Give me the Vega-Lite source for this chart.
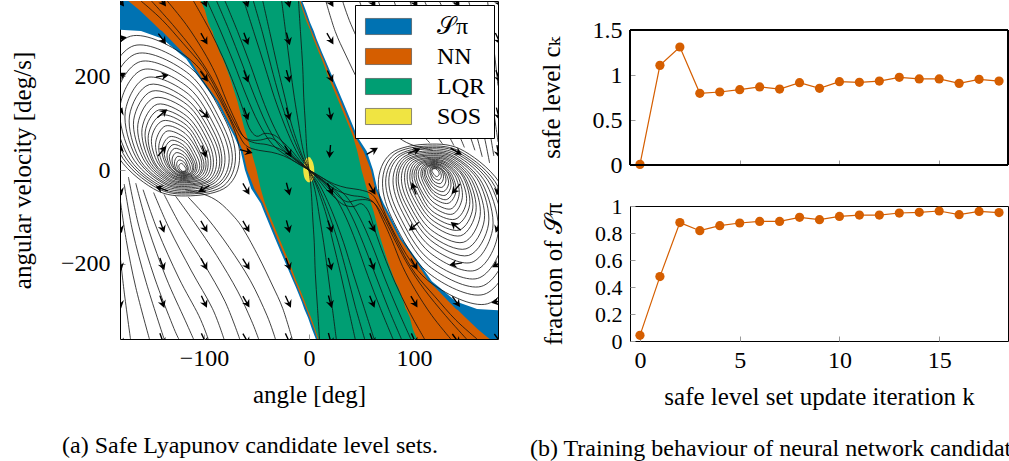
{
"$schema": "https://vega.github.io/schema/vega-lite/v6.json",
"padding": {"left": 9, "top": 0, "right": 0, "bottom": 0},
"bounds": "flush",
"spacing": 132,
"resolve": {"legend": {"fill": "independent"}},
"config": {
 "font": "Liberation Serif, DejaVu Serif, serif",
 "view": {"stroke": "black", "strokeWidth": 1},
 "axis": {"labelFont": "Liberation Serif, DejaVu Serif, serif", "titleFont": "Liberation Serif, DejaVu Serif, serif", "labelFontSize": 24, "titleFontSize": 25, "titleFontWeight": "normal", "labelColor": "black", "titleColor": "black", "grid": false, "domain": false, "offset": -5, "tickColor": "#9a9a9a", "tickSize": 5, "tickWidth": 1, "zindex": 1},
 "axisX": {"labelPadding": 7, "titlePadding": 12},
 "axisY": {"labelPadding": 10, "titlePadding": 25},
 "title": {"font": "Liberation Serif, DejaVu Serif, serif", "fontSize": 24, "fontWeight": "normal", "color": "black"}
},
"datasets": {
 "regions": [
  {"r":"S","y":-360,"x":6.5,"xe":180},{"r":"S","y":-340,"x":3,"xe":180},{"r":"S","y":-314,"x":-1,"xe":180},{"r":"S","y":-299,"x":-4,"xe":180},{"r":"S","y":-296,"x":-4.5,"xe":160},{"r":"S","y":-280,"x":-7,"xe":140},{"r":"S","y":-250,"x":-12.5,"xe":124},{"r":"S","y":-237,"x":-15,"xe":117},{"r":"S","y":-195,"x":-23,"xe":104},{"r":"S","y":-145,"x":-32.5,"xe":88},{"r":"S","y":-88,"x":-43,"xe":75},{"r":"S","y":-71,"x":-46,"xe":71},{"r":"S","y":-40,"x":-55,"xe":65},{"r":"S","y":0,"x":-61,"xe":61},{"r":"S","y":40,"x":-65,"xe":55},{"r":"S","y":71,"x":-71,"xe":46},{"r":"S","y":88,"x":-75,"xe":43},{"r":"S","y":145,"x":-88,"xe":32.5},{"r":"S","y":195,"x":-104,"xe":23},{"r":"S","y":237,"x":-117,"xe":15},{"r":"S","y":250,"x":-124,"xe":12.5},{"r":"S","y":280,"x":-140,"xe":7},{"r":"S","y":296,"x":-160,"xe":4.5},{"r":"S","y":299,"x":-180,"xe":4},{"r":"S","y":314,"x":-180,"xe":1},{"r":"S","y":340,"x":-180,"xe":-3},{"r":"S","y":360,"x":-180,"xe":-6.5},
  {"r":"N","y":-360,"x":8,"xe":172},{"r":"N","y":-340,"x":5,"xe":161},{"r":"N","y":-314,"x":0.5,"xe":149},{"r":"N","y":-299,"x":-2,"xe":142},{"r":"N","y":-296,"x":-2.5,"xe":140},{"r":"N","y":-280,"x":-5.5,"xe":133},{"r":"N","y":-250,"x":-11,"xe":120},{"r":"N","y":-237,"x":-13.5,"xe":114},{"r":"N","y":-195,"x":-21,"xe":102},{"r":"N","y":-145,"x":-30.5,"xe":86},{"r":"N","y":-88,"x":-41,"xe":73},{"r":"N","y":-71,"x":-44,"xe":69},{"r":"N","y":-40,"x":-52,"xe":63},{"r":"N","y":0,"x":-59,"xe":59},{"r":"N","y":40,"x":-63,"xe":52},{"r":"N","y":71,"x":-69,"xe":44},{"r":"N","y":88,"x":-73,"xe":41},{"r":"N","y":145,"x":-86,"xe":30.5},{"r":"N","y":195,"x":-102,"xe":21},{"r":"N","y":237,"x":-114,"xe":13.5},{"r":"N","y":250,"x":-120,"xe":11},{"r":"N","y":280,"x":-133,"xe":5.5},{"r":"N","y":296,"x":-140,"xe":2.5},{"r":"N","y":299,"x":-142,"xe":2},{"r":"N","y":314,"x":-149,"xe":-0.5},{"r":"N","y":340,"x":-161,"xe":-5},{"r":"N","y":360,"x":-172,"xe":-8},
  {"r":"L","y":-360,"x":9,"xe":103},{"r":"L","y":-340,"x":6,"xe":99},{"r":"L","y":-314,"x":2,"xe":96},{"r":"L","y":-299,"x":-1,"xe":93},{"r":"L","y":-296,"x":-1.5,"xe":92},{"r":"L","y":-280,"x":-4,"xe":90},{"r":"L","y":-250,"x":-9.5,"xe":85},{"r":"L","y":-237,"x":-12,"xe":82},{"r":"L","y":-195,"x":-19,"xe":75},{"r":"L","y":-145,"x":-28.5,"xe":68},{"r":"L","y":-88,"x":-39,"xe":61.5},{"r":"L","y":-71,"x":-42,"xe":59},{"r":"L","y":-40,"x":-46,"xe":55},{"r":"L","y":0,"x":-50,"xe":50},{"r":"L","y":40,"x":-55,"xe":46},{"r":"L","y":71,"x":-59,"xe":42},{"r":"L","y":88,"x":-61.5,"xe":39},{"r":"L","y":145,"x":-68,"xe":28.5},{"r":"L","y":195,"x":-75,"xe":19},{"r":"L","y":237,"x":-82,"xe":12},{"r":"L","y":250,"x":-85,"xe":9.5},{"r":"L","y":280,"x":-90,"xe":4},{"r":"L","y":296,"x":-92,"xe":1.5},{"r":"L","y":299,"x":-93,"xe":1},{"r":"L","y":314,"x":-96,"xe":-2},{"r":"L","y":340,"x":-99,"xe":-6},{"r":"L","y":360,"x":-103,"xe":-9},
  {"r":"Y","y":-26,"x":-1,"xe":1.5},{"r":"Y","y":-20,"x":-3.5,"xe":4},{"r":"Y","y":-10,"x":-5,"xe":5},{"r":"Y","y":0,"x":-5.5,"xe":5},{"r":"Y","y":10,"x":-5,"xe":4.5},{"r":"Y","y":20,"x":-4,"xe":3},{"r":"Y","y":27,"x":-1.5,"xe":1}
 ],
 "loops": [
  {"id":"L1","i":0,"x":-170,"y":285},{"id":"L1","i":1,"x":-113,"y":235},{"id":"L1","i":2,"x":-78,"y":120},{"id":"L1","i":3,"x":-66,"y":30},{"id":"L1","i":4,"x":-78,"y":-35},{"id":"L1","i":5,"x":-113,"y":-55},{"id":"L1","i":6,"x":-148,"y":-40},{"id":"L1","i":7,"x":-185,"y":40},{"id":"L1","i":8,"x":-200,"y":180},
  {"id":"La","i":0,"x":-166.5,"y":265},{"id":"La","i":1,"x":-113.5,"y":219},{"id":"La","i":2,"x":-81,"y":112},{"id":"La","i":3,"x":-70,"y":28},{"id":"La","i":4,"x":-81,"y":-33},{"id":"La","i":5,"x":-113.5,"y":-51},{"id":"La","i":6,"x":-146,"y":-37},{"id":"La","i":7,"x":-180.5,"y":37},{"id":"La","i":8,"x":-194,"y":167},
  {"id":"L2","i":0,"x":-164,"y":248},{"id":"L2","i":1,"x":-114,"y":204},{"id":"L2","i":2,"x":-84,"y":104},{"id":"L2","i":3,"x":-73,"y":26},{"id":"L2","i":4,"x":-84,"y":-30},{"id":"L2","i":5,"x":-114,"y":-48},{"id":"L2","i":6,"x":-144,"y":-35},{"id":"L2","i":7,"x":-177,"y":35},{"id":"L2","i":8,"x":-190,"y":157},
  {"id":"Lb","i":0,"x":-160.5,"y":231},{"id":"Lb","i":1,"x":-114,"y":190},{"id":"Lb","i":2,"x":-86,"y":97},{"id":"Lb","i":3,"x":-76,"y":24},{"id":"Lb","i":4,"x":-86,"y":-28},{"id":"Lb","i":5,"x":-114,"y":-45},{"id":"Lb","i":6,"x":-143,"y":-32},{"id":"Lb","i":7,"x":-173,"y":32},{"id":"Lb","i":8,"x":-185,"y":146},
  {"id":"L3","i":0,"x":-158,"y":214},{"id":"L3","i":1,"x":-115,"y":176},{"id":"L3","i":2,"x":-89,"y":90},{"id":"L3","i":3,"x":-80,"y":23},{"id":"L3","i":4,"x":-89,"y":-26},{"id":"L3","i":5,"x":-115,"y":-41},{"id":"L3","i":6,"x":-141,"y":-30},{"id":"L3","i":7,"x":-169,"y":30},{"id":"L3","i":8,"x":-180,"y":135},
  {"id":"Lc","i":0,"x":-154.5,"y":197},{"id":"Lc","i":1,"x":-115,"y":162},{"id":"Lc","i":2,"x":-91,"y":83},{"id":"Lc","i":3,"x":-83,"y":21},{"id":"Lc","i":4,"x":-91,"y":-24},{"id":"Lc","i":5,"x":-115,"y":-38},{"id":"Lc","i":6,"x":-139,"y":-28},{"id":"Lc","i":7,"x":-165,"y":28},{"id":"Lc","i":8,"x":-175,"y":124},
  {"id":"L4","i":0,"x":-152,"y":182},{"id":"L4","i":1,"x":-116,"y":150},{"id":"L4","i":2,"x":-93,"y":77},{"id":"L4","i":3,"x":-85,"y":19},{"id":"L4","i":4,"x":-93,"y":-22},{"id":"L4","i":5,"x":-116,"y":-35},{"id":"L4","i":6,"x":-138,"y":-26},{"id":"L4","i":7,"x":-162,"y":26},{"id":"L4","i":8,"x":-171,"y":115},
  {"id":"Ld","i":0,"x":-149.5,"y":168},{"id":"Ld","i":1,"x":-116,"y":139},{"id":"Ld","i":2,"x":-95,"y":71},{"id":"Ld","i":3,"x":-88,"y":18},{"id":"Ld","i":4,"x":-95,"y":-21},{"id":"Ld","i":5,"x":-116,"y":-32},{"id":"Ld","i":6,"x":-136.5,"y":-24},{"id":"Ld","i":7,"x":-158,"y":24},{"id":"Ld","i":8,"x":-167,"y":106},
  {"id":"L5","i":0,"x":-147,"y":154},{"id":"L5","i":1,"x":-116,"y":127},{"id":"L5","i":2,"x":-97,"y":65},{"id":"L5","i":3,"x":-91,"y":16},{"id":"L5","i":4,"x":-97,"y":-19},{"id":"L5","i":5,"x":-116,"y":-30},{"id":"L5","i":6,"x":-135,"y":-22},{"id":"L5","i":7,"x":-155,"y":22},{"id":"L5","i":8,"x":-163,"y":97},
  {"id":"Le","i":0,"x":-144.5,"y":140},{"id":"Le","i":1,"x":-116.5,"y":115},{"id":"Le","i":2,"x":-99,"y":59},{"id":"Le","i":3,"x":-93.5,"y":15},{"id":"Le","i":4,"x":-99,"y":-17},{"id":"Le","i":5,"x":-116.5,"y":-27},{"id":"Le","i":6,"x":-134,"y":-20},{"id":"Le","i":7,"x":-152,"y":20},{"id":"Le","i":8,"x":-159,"y":88},
  {"id":"L6","i":0,"x":-143,"y":128},{"id":"L6","i":1,"x":-117,"y":106},{"id":"L6","i":2,"x":-101,"y":54},{"id":"L6","i":3,"x":-96,"y":14},{"id":"L6","i":4,"x":-101,"y":-16},{"id":"L6","i":5,"x":-117,"y":-25},{"id":"L6","i":6,"x":-133,"y":-18},{"id":"L6","i":7,"x":-149,"y":18},{"id":"L6","i":8,"x":-156,"y":81},
  {"id":"Lf","i":0,"x":-140.5,"y":117},{"id":"Lf","i":1,"x":-117,"y":96},{"id":"Lf","i":2,"x":-103,"y":49},{"id":"Lf","i":3,"x":-98,"y":12},{"id":"Lf","i":4,"x":-103,"y":-14},{"id":"Lf","i":5,"x":-117,"y":-22.5},{"id":"Lf","i":6,"x":-131.5,"y":-16},{"id":"Lf","i":7,"x":-147,"y":16},{"id":"Lf","i":8,"x":-153,"y":74},
  {"id":"L7","i":0,"x":-139,"y":105},{"id":"L7","i":1,"x":-117,"y":87},{"id":"L7","i":2,"x":-105,"y":44},{"id":"L7","i":3,"x":-100,"y":11},{"id":"L7","i":4,"x":-105,"y":-13},{"id":"L7","i":5,"x":-117,"y":-20},{"id":"L7","i":6,"x":-130,"y":-15},{"id":"L7","i":7,"x":-144,"y":15},{"id":"L7","i":8,"x":-150,"y":67},
  {"id":"Lg","i":0,"x":-136.5,"y":94},{"id":"Lg","i":1,"x":-118,"y":78},{"id":"Lg","i":2,"x":-106,"y":40},{"id":"Lg","i":3,"x":-102,"y":10},{"id":"Lg","i":4,"x":-106,"y":-11.5},{"id":"Lg","i":5,"x":-118,"y":-18},{"id":"Lg","i":6,"x":-129,"y":-13},{"id":"Lg","i":7,"x":-141.5,"y":13},{"id":"Lg","i":8,"x":-146,"y":59},
  {"id":"L8","i":0,"x":-135,"y":83},{"id":"L8","i":1,"x":-118,"y":68},{"id":"L8","i":2,"x":-108,"y":35},{"id":"L8","i":3,"x":-104,"y":9},{"id":"L8","i":4,"x":-108,"y":-10},{"id":"L8","i":5,"x":-118,"y":-16},{"id":"L8","i":6,"x":-128,"y":-12},{"id":"L8","i":7,"x":-139,"y":12},{"id":"L8","i":8,"x":-143,"y":52},
  {"id":"Lh","i":0,"x":-132.5,"y":71},{"id":"Lh","i":1,"x":-118,"y":59},{"id":"Lh","i":2,"x":-109.5,"y":30},{"id":"Lh","i":3,"x":-106.5,"y":7.5},{"id":"Lh","i":4,"x":-109.5,"y":-9},{"id":"Lh","i":5,"x":-118,"y":-14},{"id":"Lh","i":6,"x":-127,"y":-10},{"id":"Lh","i":7,"x":-136,"y":10},{"id":"Lh","i":8,"x":-140,"y":45},
  {"id":"L9","i":0,"x":-131,"y":63},{"id":"L9","i":1,"x":-119,"y":52},{"id":"L9","i":2,"x":-111,"y":26},{"id":"L9","i":3,"x":-108,"y":7},{"id":"L9","i":4,"x":-111,"y":-8},{"id":"L9","i":5,"x":-119,"y":-12},{"id":"L9","i":6,"x":-126,"y":-9},{"id":"L9","i":7,"x":-134,"y":9},{"id":"L9","i":8,"x":-138,"y":40},
  {"id":"Li","i":0,"x":-129.5,"y":54},{"id":"Li","i":1,"x":-118.7,"y":45},{"id":"Li","i":2,"x":-112,"y":23},{"id":"Li","i":3,"x":-109.7,"y":6},{"id":"Li","i":4,"x":-112,"y":-7},{"id":"Li","i":5,"x":-118.7,"y":-10.5},{"id":"Li","i":6,"x":-125.3,"y":-7.6},{"id":"Li","i":7,"x":-132.4,"y":7.6},{"id":"Li","i":8,"x":-135.2,"y":34},
  {"id":"L10","i":0,"x":-128,"y":46},{"id":"L10","i":1,"x":-119,"y":38},{"id":"L10","i":2,"x":-113,"y":19},{"id":"L10","i":3,"x":-111,"y":5},{"id":"L10","i":4,"x":-113,"y":-6},{"id":"L10","i":5,"x":-119,"y":-9},{"id":"L10","i":6,"x":-124,"y":-6},{"id":"L10","i":7,"x":-130,"y":6},{"id":"L10","i":8,"x":-133,"y":29},
  {"id":"Lj","i":0,"x":-126.5,"y":37},{"id":"Lj","i":1,"x":-119,"y":30.5},{"id":"Lj","i":2,"x":-114.5,"y":15.6},{"id":"Lj","i":3,"x":-113,"y":3.9},{"id":"Lj","i":4,"x":-114.5,"y":-4.6},{"id":"Lj","i":5,"x":-119,"y":-7.2},{"id":"Lj","i":6,"x":-123.6,"y":-5.2},{"id":"Lj","i":7,"x":-128.5,"y":5.2},{"id":"Lj","i":8,"x":-130.4,"y":23.4},
  {"id":"L11","i":0,"x":-125,"y":29},{"id":"L11","i":1,"x":-119,"y":24},{"id":"L11","i":2,"x":-116,"y":12},{"id":"L11","i":3,"x":-115,"y":3},{"id":"L11","i":4,"x":-116,"y":-4},{"id":"L11","i":5,"x":-119,"y":-6},{"id":"L11","i":6,"x":-123,"y":-4},{"id":"L11","i":7,"x":-127,"y":4},{"id":"L11","i":8,"x":-128,"y":18},
  {"id":"Lk","i":0,"x":-123.75,"y":21.4},{"id":"Lk","i":1,"x":-119.5,"y":17.6},{"id":"Lk","i":2,"x":-116.85,"y":9},{"id":"Lk","i":3,"x":-115.95,"y":2.25},{"id":"Lk","i":4,"x":-116.85,"y":-2.6},{"id":"Lk","i":5,"x":-119.5,"y":-4.1},{"id":"Lk","i":6,"x":-122.1,"y":-3},{"id":"Lk","i":7,"x":-124.9,"y":3},{"id":"Lk","i":8,"x":-126,"y":13.5},
  {"id":"L12","i":0,"x":-122,"y":14},{"id":"L12","i":1,"x":-120,"y":12},{"id":"L12","i":2,"x":-118,"y":6},{"id":"L12","i":3,"x":-117,"y":2},{"id":"L12","i":4,"x":-118,"y":-2},{"id":"L12","i":5,"x":-120,"y":-3},{"id":"L12","i":6,"x":-121,"y":-2},{"id":"L12","i":7,"x":-123,"y":2},{"id":"L12","i":8,"x":-124,"y":9},
  {"id":"R1","i":0,"x":170,"y":-285},{"id":"R1","i":1,"x":113,"y":-235},{"id":"R1","i":2,"x":78,"y":-120},{"id":"R1","i":3,"x":66,"y":-30},{"id":"R1","i":4,"x":78,"y":35},{"id":"R1","i":5,"x":113,"y":55},{"id":"R1","i":6,"x":148,"y":40},{"id":"R1","i":7,"x":185,"y":-40},{"id":"R1","i":8,"x":200,"y":-180},
  {"id":"Ra","i":0,"x":166.5,"y":-265},{"id":"Ra","i":1,"x":113.5,"y":-219},{"id":"Ra","i":2,"x":81,"y":-112},{"id":"Ra","i":3,"x":70,"y":-28},{"id":"Ra","i":4,"x":81,"y":33},{"id":"Ra","i":5,"x":113.5,"y":51},{"id":"Ra","i":6,"x":146,"y":37},{"id":"Ra","i":7,"x":180.5,"y":-37},{"id":"Ra","i":8,"x":194,"y":-167},
  {"id":"R2","i":0,"x":164,"y":-248},{"id":"R2","i":1,"x":114,"y":-204},{"id":"R2","i":2,"x":84,"y":-104},{"id":"R2","i":3,"x":73,"y":-26},{"id":"R2","i":4,"x":84,"y":30},{"id":"R2","i":5,"x":114,"y":48},{"id":"R2","i":6,"x":144,"y":35},{"id":"R2","i":7,"x":177,"y":-35},{"id":"R2","i":8,"x":190,"y":-157},
  {"id":"Rb","i":0,"x":160.5,"y":-231},{"id":"Rb","i":1,"x":114,"y":-190},{"id":"Rb","i":2,"x":86,"y":-97},{"id":"Rb","i":3,"x":76,"y":-24},{"id":"Rb","i":4,"x":86,"y":28},{"id":"Rb","i":5,"x":114,"y":45},{"id":"Rb","i":6,"x":143,"y":32},{"id":"Rb","i":7,"x":173,"y":-32},{"id":"Rb","i":8,"x":185,"y":-146},
  {"id":"R3","i":0,"x":158,"y":-214},{"id":"R3","i":1,"x":115,"y":-176},{"id":"R3","i":2,"x":89,"y":-90},{"id":"R3","i":3,"x":80,"y":-23},{"id":"R3","i":4,"x":89,"y":26},{"id":"R3","i":5,"x":115,"y":41},{"id":"R3","i":6,"x":141,"y":30},{"id":"R3","i":7,"x":169,"y":-30},{"id":"R3","i":8,"x":180,"y":-135},
  {"id":"Rc","i":0,"x":154.5,"y":-197},{"id":"Rc","i":1,"x":115,"y":-162},{"id":"Rc","i":2,"x":91,"y":-83},{"id":"Rc","i":3,"x":83,"y":-21},{"id":"Rc","i":4,"x":91,"y":24},{"id":"Rc","i":5,"x":115,"y":38},{"id":"Rc","i":6,"x":139,"y":28},{"id":"Rc","i":7,"x":165,"y":-28},{"id":"Rc","i":8,"x":175,"y":-124},
  {"id":"R4","i":0,"x":152,"y":-182},{"id":"R4","i":1,"x":116,"y":-150},{"id":"R4","i":2,"x":93,"y":-77},{"id":"R4","i":3,"x":85,"y":-19},{"id":"R4","i":4,"x":93,"y":22},{"id":"R4","i":5,"x":116,"y":35},{"id":"R4","i":6,"x":138,"y":26},{"id":"R4","i":7,"x":162,"y":-26},{"id":"R4","i":8,"x":171,"y":-115},
  {"id":"Rd","i":0,"x":149.5,"y":-168},{"id":"Rd","i":1,"x":116,"y":-139},{"id":"Rd","i":2,"x":95,"y":-71},{"id":"Rd","i":3,"x":88,"y":-18},{"id":"Rd","i":4,"x":95,"y":21},{"id":"Rd","i":5,"x":116,"y":32},{"id":"Rd","i":6,"x":136.5,"y":24},{"id":"Rd","i":7,"x":158,"y":-24},{"id":"Rd","i":8,"x":167,"y":-106},
  {"id":"R5","i":0,"x":147,"y":-154},{"id":"R5","i":1,"x":116,"y":-127},{"id":"R5","i":2,"x":97,"y":-65},{"id":"R5","i":3,"x":91,"y":-16},{"id":"R5","i":4,"x":97,"y":19},{"id":"R5","i":5,"x":116,"y":30},{"id":"R5","i":6,"x":135,"y":22},{"id":"R5","i":7,"x":155,"y":-22},{"id":"R5","i":8,"x":163,"y":-97},
  {"id":"Re","i":0,"x":144.5,"y":-140},{"id":"Re","i":1,"x":116.5,"y":-115},{"id":"Re","i":2,"x":99,"y":-59},{"id":"Re","i":3,"x":93.5,"y":-15},{"id":"Re","i":4,"x":99,"y":17},{"id":"Re","i":5,"x":116.5,"y":27},{"id":"Re","i":6,"x":134,"y":20},{"id":"Re","i":7,"x":152,"y":-20},{"id":"Re","i":8,"x":159,"y":-88},
  {"id":"R6","i":0,"x":143,"y":-128},{"id":"R6","i":1,"x":117,"y":-106},{"id":"R6","i":2,"x":101,"y":-54},{"id":"R6","i":3,"x":96,"y":-14},{"id":"R6","i":4,"x":101,"y":16},{"id":"R6","i":5,"x":117,"y":25},{"id":"R6","i":6,"x":133,"y":18},{"id":"R6","i":7,"x":149,"y":-18},{"id":"R6","i":8,"x":156,"y":-81},
  {"id":"Rf","i":0,"x":140.5,"y":-117},{"id":"Rf","i":1,"x":117,"y":-96},{"id":"Rf","i":2,"x":103,"y":-49},{"id":"Rf","i":3,"x":98,"y":-12},{"id":"Rf","i":4,"x":103,"y":14},{"id":"Rf","i":5,"x":117,"y":22.5},{"id":"Rf","i":6,"x":131.5,"y":16},{"id":"Rf","i":7,"x":147,"y":-16},{"id":"Rf","i":8,"x":153,"y":-74},
  {"id":"R7","i":0,"x":139,"y":-105},{"id":"R7","i":1,"x":117,"y":-87},{"id":"R7","i":2,"x":105,"y":-44},{"id":"R7","i":3,"x":100,"y":-11},{"id":"R7","i":4,"x":105,"y":13},{"id":"R7","i":5,"x":117,"y":20},{"id":"R7","i":6,"x":130,"y":15},{"id":"R7","i":7,"x":144,"y":-15},{"id":"R7","i":8,"x":150,"y":-67},
  {"id":"Rg","i":0,"x":136.5,"y":-94},{"id":"Rg","i":1,"x":118,"y":-78},{"id":"Rg","i":2,"x":106,"y":-40},{"id":"Rg","i":3,"x":102,"y":-10},{"id":"Rg","i":4,"x":106,"y":11.5},{"id":"Rg","i":5,"x":118,"y":18},{"id":"Rg","i":6,"x":129,"y":13},{"id":"Rg","i":7,"x":141.5,"y":-13},{"id":"Rg","i":8,"x":146,"y":-59},
  {"id":"R8","i":0,"x":135,"y":-83},{"id":"R8","i":1,"x":118,"y":-68},{"id":"R8","i":2,"x":108,"y":-35},{"id":"R8","i":3,"x":104,"y":-9},{"id":"R8","i":4,"x":108,"y":10},{"id":"R8","i":5,"x":118,"y":16},{"id":"R8","i":6,"x":128,"y":12},{"id":"R8","i":7,"x":139,"y":-12},{"id":"R8","i":8,"x":143,"y":-52},
  {"id":"Rh","i":0,"x":132.5,"y":-71},{"id":"Rh","i":1,"x":118,"y":-59},{"id":"Rh","i":2,"x":109.5,"y":-30},{"id":"Rh","i":3,"x":106.5,"y":-7.5},{"id":"Rh","i":4,"x":109.5,"y":9},{"id":"Rh","i":5,"x":118,"y":14},{"id":"Rh","i":6,"x":127,"y":10},{"id":"Rh","i":7,"x":136,"y":-10},{"id":"Rh","i":8,"x":140,"y":-45},
  {"id":"R9","i":0,"x":131,"y":-63},{"id":"R9","i":1,"x":119,"y":-52},{"id":"R9","i":2,"x":111,"y":-26},{"id":"R9","i":3,"x":108,"y":-7},{"id":"R9","i":4,"x":111,"y":8},{"id":"R9","i":5,"x":119,"y":12},{"id":"R9","i":6,"x":126,"y":9},{"id":"R9","i":7,"x":134,"y":-9},{"id":"R9","i":8,"x":138,"y":-40},
  {"id":"Ri","i":0,"x":129.5,"y":-54},{"id":"Ri","i":1,"x":118.7,"y":-45},{"id":"Ri","i":2,"x":112,"y":-23},{"id":"Ri","i":3,"x":109.7,"y":-6},{"id":"Ri","i":4,"x":112,"y":7},{"id":"Ri","i":5,"x":118.7,"y":10.5},{"id":"Ri","i":6,"x":125.3,"y":7.6},{"id":"Ri","i":7,"x":132.4,"y":-7.6},{"id":"Ri","i":8,"x":135.2,"y":-34},
  {"id":"R10","i":0,"x":128,"y":-46},{"id":"R10","i":1,"x":119,"y":-38},{"id":"R10","i":2,"x":113,"y":-19},{"id":"R10","i":3,"x":111,"y":-5},{"id":"R10","i":4,"x":113,"y":6},{"id":"R10","i":5,"x":119,"y":9},{"id":"R10","i":6,"x":124,"y":6},{"id":"R10","i":7,"x":130,"y":-6},{"id":"R10","i":8,"x":133,"y":-29},
  {"id":"Rj","i":0,"x":126.5,"y":-37},{"id":"Rj","i":1,"x":119,"y":-30.5},{"id":"Rj","i":2,"x":114.5,"y":-15.6},{"id":"Rj","i":3,"x":113,"y":-3.9},{"id":"Rj","i":4,"x":114.5,"y":4.6},{"id":"Rj","i":5,"x":119,"y":7.2},{"id":"Rj","i":6,"x":123.6,"y":5.2},{"id":"Rj","i":7,"x":128.5,"y":-5.2},{"id":"Rj","i":8,"x":130.4,"y":-23.4},
  {"id":"R11","i":0,"x":125,"y":-29},{"id":"R11","i":1,"x":119,"y":-24},{"id":"R11","i":2,"x":116,"y":-12},{"id":"R11","i":3,"x":115,"y":-3},{"id":"R11","i":4,"x":116,"y":4},{"id":"R11","i":5,"x":119,"y":6},{"id":"R11","i":6,"x":123,"y":4},{"id":"R11","i":7,"x":127,"y":-4},{"id":"R11","i":8,"x":128,"y":-18},
  {"id":"Rk","i":0,"x":123.75,"y":-21.4},{"id":"Rk","i":1,"x":119.5,"y":-17.6},{"id":"Rk","i":2,"x":116.85,"y":-9},{"id":"Rk","i":3,"x":115.95,"y":-2.25},{"id":"Rk","i":4,"x":116.85,"y":2.6},{"id":"Rk","i":5,"x":119.5,"y":4.1},{"id":"Rk","i":6,"x":122.1,"y":3},{"id":"Rk","i":7,"x":124.9,"y":-3},{"id":"Rk","i":8,"x":126,"y":-13.5},
  {"id":"R12","i":0,"x":122,"y":-14},{"id":"R12","i":1,"x":120,"y":-12},{"id":"R12","i":2,"x":118,"y":-6},{"id":"R12","i":3,"x":117,"y":-2},{"id":"R12","i":4,"x":118,"y":2},{"id":"R12","i":5,"x":120,"y":3},{"id":"R12","i":6,"x":121,"y":2},{"id":"R12","i":7,"x":123,"y":-2},{"id":"R12","i":8,"x":124,"y":-9}
 ],
 "paths": [
  {"id":"G1","i":0,"x":-97,"y":360},{"id":"G1","i":1,"x":-85,"y":300},{"id":"G1","i":2,"x":-72,"y":230},{"id":"G1","i":3,"x":-60,"y":160},{"id":"G1","i":4,"x":-48,"y":100},{"id":"G1","i":5,"x":-35,"y":55},{"id":"G1","i":6,"x":-20,"y":28},{"id":"G1","i":7,"x":-8,"y":10},{"id":"G1","i":8,"x":0,"y":0},{"id":"G1","i":9,"x":8,"y":-10},{"id":"G1","i":10,"x":20,"y":-28},{"id":"G1","i":11,"x":35,"y":-55},{"id":"G1","i":12,"x":48,"y":-100},{"id":"G1","i":13,"x":60,"y":-160},{"id":"G1","i":14,"x":72,"y":-230},{"id":"G1","i":15,"x":85,"y":-300},{"id":"G1","i":16,"x":97,"y":-360},
  {"id":"G6","i":0,"x":-88,"y":360},{"id":"G6","i":1,"x":-76,"y":297},{"id":"G6","i":2,"x":-64,"y":228},{"id":"G6","i":3,"x":-52,"y":158},{"id":"G6","i":4,"x":-41,"y":100},{"id":"G6","i":5,"x":-30,"y":57},{"id":"G6","i":6,"x":-17,"y":28},{"id":"G6","i":7,"x":-6,"y":10},{"id":"G6","i":8,"x":0,"y":0},{"id":"G6","i":9,"x":6,"y":-10},{"id":"G6","i":10,"x":17,"y":-28},{"id":"G6","i":11,"x":30,"y":-57},{"id":"G6","i":12,"x":41,"y":-100},{"id":"G6","i":13,"x":52,"y":-158},{"id":"G6","i":14,"x":64,"y":-228},{"id":"G6","i":15,"x":76,"y":-297},{"id":"G6","i":16,"x":88,"y":-360},
  {"id":"G2","i":0,"x":-80,"y":360},{"id":"G2","i":1,"x":-68,"y":295},{"id":"G2","i":2,"x":-56,"y":225},{"id":"G2","i":3,"x":-45,"y":155},{"id":"G2","i":4,"x":-35,"y":100},{"id":"G2","i":5,"x":-25,"y":58},{"id":"G2","i":6,"x":-14,"y":28},{"id":"G2","i":7,"x":-5,"y":10},{"id":"G2","i":8,"x":0,"y":0},{"id":"G2","i":9,"x":5,"y":-10},{"id":"G2","i":10,"x":14,"y":-28},{"id":"G2","i":11,"x":25,"y":-58},{"id":"G2","i":12,"x":35,"y":-100},{"id":"G2","i":13,"x":45,"y":-155},{"id":"G2","i":14,"x":56,"y":-225},{"id":"G2","i":15,"x":68,"y":-295},{"id":"G2","i":16,"x":80,"y":-360},
  {"id":"G3","i":0,"x":-62,"y":360},{"id":"G3","i":1,"x":-52,"y":290},{"id":"G3","i":2,"x":-42,"y":220},{"id":"G3","i":3,"x":-33,"y":155},{"id":"G3","i":4,"x":-24,"y":100},{"id":"G3","i":5,"x":-16,"y":58},{"id":"G3","i":6,"x":-9,"y":28},{"id":"G3","i":7,"x":-3,"y":10},{"id":"G3","i":8,"x":0,"y":0},{"id":"G3","i":9,"x":3,"y":-10},{"id":"G3","i":10,"x":9,"y":-28},{"id":"G3","i":11,"x":16,"y":-58},{"id":"G3","i":12,"x":24,"y":-100},{"id":"G3","i":13,"x":33,"y":-155},{"id":"G3","i":14,"x":42,"y":-220},{"id":"G3","i":15,"x":52,"y":-290},{"id":"G3","i":16,"x":62,"y":-360},
  {"id":"G7","i":0,"x":-53,"y":360},{"id":"G7","i":1,"x":-44,"y":290},{"id":"G7","i":2,"x":-36,"y":220},{"id":"G7","i":3,"x":-28,"y":155},{"id":"G7","i":4,"x":-20,"y":100},{"id":"G7","i":5,"x":-13,"y":58},{"id":"G7","i":6,"x":-7,"y":28},{"id":"G7","i":7,"x":-2.5,"y":10},{"id":"G7","i":8,"x":0,"y":0},{"id":"G7","i":9,"x":2.5,"y":-10},{"id":"G7","i":10,"x":7,"y":-28},{"id":"G7","i":11,"x":13,"y":-58},{"id":"G7","i":12,"x":20,"y":-100},{"id":"G7","i":13,"x":28,"y":-155},{"id":"G7","i":14,"x":36,"y":-220},{"id":"G7","i":15,"x":44,"y":-290},{"id":"G7","i":16,"x":53,"y":-360},
  {"id":"G4","i":0,"x":-44,"y":360},{"id":"G4","i":1,"x":-37,"y":290},{"id":"G4","i":2,"x":-30,"y":220},{"id":"G4","i":3,"x":-23,"y":155},{"id":"G4","i":4,"x":-17,"y":100},{"id":"G4","i":5,"x":-11,"y":58},{"id":"G4","i":6,"x":-6,"y":28},{"id":"G4","i":7,"x":-2,"y":10},{"id":"G4","i":8,"x":0,"y":0},{"id":"G4","i":9,"x":2,"y":-10},{"id":"G4","i":10,"x":6,"y":-28},{"id":"G4","i":11,"x":11,"y":-58},{"id":"G4","i":12,"x":17,"y":-100},{"id":"G4","i":13,"x":23,"y":-155},{"id":"G4","i":14,"x":30,"y":-220},{"id":"G4","i":15,"x":37,"y":-290},{"id":"G4","i":16,"x":44,"y":-360},
  {"id":"G5","i":0,"x":-26,"y":360},{"id":"G5","i":1,"x":-22,"y":290},{"id":"G5","i":2,"x":-18,"y":220},{"id":"G5","i":3,"x":-14,"y":155},{"id":"G5","i":4,"x":-10,"y":100},{"id":"G5","i":5,"x":-7,"y":58},{"id":"G5","i":6,"x":-4,"y":28},{"id":"G5","i":7,"x":-1,"y":10},{"id":"G5","i":8,"x":0,"y":0},{"id":"G5","i":9,"x":1,"y":-10},{"id":"G5","i":10,"x":4,"y":-28},{"id":"G5","i":11,"x":7,"y":-58},{"id":"G5","i":12,"x":10,"y":-100},{"id":"G5","i":13,"x":14,"y":-155},{"id":"G5","i":14,"x":18,"y":-220},{"id":"G5","i":15,"x":22,"y":-290},{"id":"G5","i":16,"x":26,"y":-360},
  {"id":"G8","i":0,"x":-10,"y":360},{"id":"G8","i":1,"x":-8,"y":290},{"id":"G8","i":2,"x":-6,"y":220},{"id":"G8","i":3,"x":-5,"y":155},{"id":"G8","i":4,"x":-3.5,"y":100},{"id":"G8","i":5,"x":-2.5,"y":58},{"id":"G8","i":6,"x":-1.5,"y":28},{"id":"G8","i":7,"x":-0.5,"y":10},{"id":"G8","i":8,"x":0,"y":0},{"id":"G8","i":9,"x":0.5,"y":-10},{"id":"G8","i":10,"x":1.5,"y":-28},{"id":"G8","i":11,"x":2.5,"y":-58},{"id":"G8","i":12,"x":3.5,"y":-100},{"id":"G8","i":13,"x":5,"y":-155},{"id":"G8","i":14,"x":6,"y":-220},{"id":"G8","i":15,"x":8,"y":-290},{"id":"G8","i":16,"x":10,"y":-360},
  {"id":"O1","i":0,"x":-160,"y":360},{"id":"O1","i":1,"x":-140,"y":320},{"id":"O1","i":2,"x":-120,"y":270},{"id":"O1","i":3,"x":-101,"y":220},{"id":"O1","i":4,"x":-88,"y":170},{"id":"O1","i":5,"x":-77,"y":120},{"id":"O1","i":6,"x":-68,"y":80},{"id":"O1","i":7,"x":-60,"y":52},{"id":"O1","i":8,"x":-48,"y":42},{"id":"O1","i":9,"x":-36,"y":38},{"id":"O1","i":10,"x":-24,"y":30},{"id":"O1","i":11,"x":-12,"y":16},{"id":"O1","i":12,"x":0,"y":0},{"id":"O1","i":13,"x":12,"y":-16},{"id":"O1","i":14,"x":24,"y":-30},{"id":"O1","i":15,"x":36,"y":-38},{"id":"O1","i":16,"x":48,"y":-42},{"id":"O1","i":17,"x":60,"y":-52},{"id":"O1","i":18,"x":68,"y":-80},{"id":"O1","i":19,"x":77,"y":-120},{"id":"O1","i":20,"x":88,"y":-170},{"id":"O1","i":21,"x":101,"y":-220},{"id":"O1","i":22,"x":120,"y":-270},{"id":"O1","i":23,"x":140,"y":-320},{"id":"O1","i":24,"x":160,"y":-360},
  {"id":"O2","i":0,"x":-135,"y":360},{"id":"O2","i":1,"x":-117,"y":310},{"id":"O2","i":2,"x":-101,"y":255},{"id":"O2","i":3,"x":-89,"y":205},{"id":"O2","i":4,"x":-79,"y":150},{"id":"O2","i":5,"x":-70,"y":105},{"id":"O2","i":6,"x":-62,"y":70},{"id":"O2","i":7,"x":-52,"y":58},{"id":"O2","i":8,"x":-40,"y":54},{"id":"O2","i":9,"x":-28,"y":45},{"id":"O2","i":10,"x":-17,"y":30},{"id":"O2","i":11,"x":-7,"y":13},{"id":"O2","i":12,"x":0,"y":0},{"id":"O2","i":13,"x":7,"y":-13},{"id":"O2","i":14,"x":17,"y":-30},{"id":"O2","i":15,"x":28,"y":-45},{"id":"O2","i":16,"x":40,"y":-54},{"id":"O2","i":17,"x":52,"y":-58},{"id":"O2","i":18,"x":62,"y":-70},{"id":"O2","i":19,"x":70,"y":-105},{"id":"O2","i":20,"x":79,"y":-150},{"id":"O2","i":21,"x":89,"y":-205},{"id":"O2","i":22,"x":101,"y":-255},{"id":"O2","i":23,"x":117,"y":-310},{"id":"O2","i":24,"x":135,"y":-360},
  {"id":"O3","i":0,"x":-150,"y":360},{"id":"O3","i":1,"x":-130,"y":310},{"id":"O3","i":2,"x":-110,"y":255},{"id":"O3","i":3,"x":-95,"y":205},{"id":"O3","i":4,"x":-83,"y":155},{"id":"O3","i":5,"x":-73,"y":110},{"id":"O3","i":6,"x":-64,"y":75},{"id":"O3","i":7,"x":-56,"y":64},{"id":"O3","i":8,"x":-46,"y":64},{"id":"O3","i":9,"x":-37,"y":68},{"id":"O3","i":10,"x":-29,"y":58},{"id":"O3","i":11,"x":-21,"y":40},{"id":"O3","i":12,"x":-12,"y":20},{"id":"O3","i":13,"x":-4,"y":6},{"id":"O3","i":14,"x":0,"y":0},{"id":"O3","i":15,"x":4,"y":-6},{"id":"O3","i":16,"x":12,"y":-20},{"id":"O3","i":17,"x":21,"y":-40},{"id":"O3","i":18,"x":29,"y":-58},{"id":"O3","i":19,"x":37,"y":-68},{"id":"O3","i":20,"x":46,"y":-64},{"id":"O3","i":21,"x":56,"y":-64},{"id":"O3","i":22,"x":64,"y":-75},{"id":"O3","i":23,"x":73,"y":-110},{"id":"O3","i":24,"x":83,"y":-155},{"id":"O3","i":25,"x":95,"y":-205},{"id":"O3","i":26,"x":110,"y":-255},{"id":"O3","i":27,"x":130,"y":-310},{"id":"O3","i":28,"x":150,"y":-360},
  {"id":"O4","i":0,"x":-110,"y":360},{"id":"O4","i":1,"x":-95,"y":300},{"id":"O4","i":2,"x":-82,"y":240},{"id":"O4","i":3,"x":-71,"y":180},{"id":"O4","i":4,"x":-63,"y":130},{"id":"O4","i":5,"x":-57,"y":90},{"id":"O4","i":6,"x":-50,"y":72},{"id":"O4","i":7,"x":-42,"y":78},{"id":"O4","i":8,"x":-33,"y":74},{"id":"O4","i":9,"x":-25,"y":60},{"id":"O4","i":10,"x":-16,"y":40},{"id":"O4","i":11,"x":-8,"y":18},{"id":"O4","i":12,"x":0,"y":0},{"id":"O4","i":13,"x":8,"y":-18},{"id":"O4","i":14,"x":16,"y":-40},{"id":"O4","i":15,"x":25,"y":-60},{"id":"O4","i":16,"x":33,"y":-74},{"id":"O4","i":17,"x":42,"y":-78},{"id":"O4","i":18,"x":50,"y":-72},{"id":"O4","i":19,"x":57,"y":-90},{"id":"O4","i":20,"x":63,"y":-130},{"id":"O4","i":21,"x":71,"y":-180},{"id":"O4","i":22,"x":82,"y":-240},{"id":"O4","i":23,"x":95,"y":-300},{"id":"O4","i":24,"x":110,"y":-360},
  {"id":"A1","i":0,"x":-180,"y":-60},{"id":"A1","i":1,"x":-174,"y":-150},{"id":"A1","i":2,"x":-165,"y":-250},{"id":"A1","i":3,"x":-152,"y":-360},
  {"id":"A7","i":0,"x":-180,"y":-180},{"id":"A7","i":1,"x":-176,"y":-260},{"id":"A7","i":2,"x":-170,"y":-360},
  {"id":"A8","i":0,"x":-176,"y":-30},{"id":"A8","i":1,"x":-168,"y":-130},{"id":"A8","i":2,"x":-155,"y":-240},{"id":"A8","i":3,"x":-138,"y":-360},
  {"id":"A2","i":0,"x":-172,"y":-15},{"id":"A2","i":1,"x":-162,"y":-120},{"id":"A2","i":2,"x":-147,"y":-230},{"id":"A2","i":3,"x":-130,"y":-330},{"id":"A2","i":4,"x":-124,"y":-360},
  {"id":"A9","i":0,"x":-165,"y":-28},{"id":"A9","i":1,"x":-153,"y":-125},{"id":"A9","i":2,"x":-136,"y":-230},{"id":"A9","i":3,"x":-118,"y":-320},{"id":"A9","i":4,"x":-110,"y":-360},
  {"id":"A3","i":0,"x":-158,"y":-42},{"id":"A3","i":1,"x":-144,"y":-130},{"id":"A3","i":2,"x":-124,"y":-230},{"id":"A3","i":3,"x":-105,"y":-310},{"id":"A3","i":4,"x":-96,"y":-360},
  {"id":"A11","i":0,"x":-148,"y":-48},{"id":"A11","i":1,"x":-133,"y":-125},{"id":"A11","i":2,"x":-112,"y":-215},{"id":"A11","i":3,"x":-92,"y":-295},{"id":"A11","i":4,"x":-81,"y":-360},
  {"id":"A4","i":0,"x":-138,"y":-52},{"id":"A4","i":1,"x":-122,"y":-120},{"id":"A4","i":2,"x":-100,"y":-200},{"id":"A4","i":3,"x":-80,"y":-280},{"id":"A4","i":4,"x":-66,"y":-360},
  {"id":"A10","i":0,"x":-127,"y":-56},{"id":"A10","i":1,"x":-109,"y":-112},{"id":"A10","i":2,"x":-88,"y":-182},{"id":"A10","i":3,"x":-68,"y":-258},{"id":"A10","i":4,"x":-55,"y":-320},{"id":"A10","i":5,"x":-48,"y":-360},
  {"id":"A5","i":0,"x":-115,"y":-58},{"id":"A5","i":1,"x":-96,"y":-105},{"id":"A5","i":2,"x":-76,"y":-165},{"id":"A5","i":3,"x":-56,"y":-235},{"id":"A5","i":4,"x":-40,"y":-310},{"id":"A5","i":5,"x":-32,"y":-360},
  {"id":"A6","i":0,"x":-118,"y":-42},{"id":"A6","i":1,"x":-100,"y":-52},{"id":"A6","i":2,"x":-86,"y":-68},{"id":"A6","i":3,"x":-72,"y":-98},{"id":"A6","i":4,"x":-62,"y":-128},{"id":"A6","i":5,"x":-48,"y":-185},{"id":"A6","i":6,"x":-35,"y":-245},{"id":"A6","i":7,"x":-25,"y":-295},{"id":"A6","i":8,"x":-16,"y":-360},
  {"id":"B1","i":0,"x":180,"y":60},{"id":"B1","i":1,"x":174,"y":150},{"id":"B1","i":2,"x":165,"y":250},{"id":"B1","i":3,"x":152,"y":360},
  {"id":"B7","i":0,"x":180,"y":180},{"id":"B7","i":1,"x":176,"y":260},{"id":"B7","i":2,"x":170,"y":360},
  {"id":"B8","i":0,"x":176,"y":30},{"id":"B8","i":1,"x":168,"y":130},{"id":"B8","i":2,"x":155,"y":240},{"id":"B8","i":3,"x":138,"y":360},
  {"id":"B2","i":0,"x":172,"y":15},{"id":"B2","i":1,"x":162,"y":120},{"id":"B2","i":2,"x":147,"y":230},{"id":"B2","i":3,"x":130,"y":330},{"id":"B2","i":4,"x":124,"y":360},
  {"id":"B9","i":0,"x":165,"y":28},{"id":"B9","i":1,"x":153,"y":125},{"id":"B9","i":2,"x":136,"y":230},{"id":"B9","i":3,"x":118,"y":320},{"id":"B9","i":4,"x":110,"y":360},
  {"id":"B3","i":0,"x":158,"y":42},{"id":"B3","i":1,"x":144,"y":130},{"id":"B3","i":2,"x":124,"y":230},{"id":"B3","i":3,"x":105,"y":310},{"id":"B3","i":4,"x":96,"y":360},
  {"id":"B11","i":0,"x":148,"y":48},{"id":"B11","i":1,"x":133,"y":125},{"id":"B11","i":2,"x":112,"y":215},{"id":"B11","i":3,"x":92,"y":295},{"id":"B11","i":4,"x":81,"y":360},
  {"id":"B4","i":0,"x":138,"y":52},{"id":"B4","i":1,"x":122,"y":120},{"id":"B4","i":2,"x":100,"y":200},{"id":"B4","i":3,"x":80,"y":280},{"id":"B4","i":4,"x":66,"y":360},
  {"id":"B10","i":0,"x":127,"y":56},{"id":"B10","i":1,"x":109,"y":112},{"id":"B10","i":2,"x":88,"y":182},{"id":"B10","i":3,"x":68,"y":258},{"id":"B10","i":4,"x":55,"y":320},{"id":"B10","i":5,"x":48,"y":360},
  {"id":"B5","i":0,"x":115,"y":58},{"id":"B5","i":1,"x":96,"y":105},{"id":"B5","i":2,"x":76,"y":165},{"id":"B5","i":3,"x":56,"y":235},{"id":"B5","i":4,"x":40,"y":310},{"id":"B5","i":5,"x":32,"y":360},
  {"id":"B6","i":0,"x":118,"y":42},{"id":"B6","i":1,"x":100,"y":52},{"id":"B6","i":2,"x":86,"y":68},{"id":"B6","i":3,"x":72,"y":98},{"id":"B6","i":4,"x":62,"y":128},{"id":"B6","i":5,"x":48,"y":185},{"id":"B6","i":6,"x":35,"y":245},{"id":"B6","i":7,"x":25,"y":295},{"id":"B6","i":8,"x":16,"y":360}
 ],
 "arrows": [
  {"x":-180,"y":360,"a":144},{"x":-140,"y":360,"a":144},{"x":-100,"y":360,"a":155},{"x":-60,"y":360,"a":162},{"x":-20,"y":360,"a":165},{"x":20,"y":360,"a":150},{"x":60,"y":360,"a":150},{"x":100,"y":360,"a":150},{"x":140,"y":360,"a":150},{"x":180,"y":360,"a":150},
  {"x":-180,"y":280,"a":80},{"x":-140,"y":280,"a":144},{"x":-100,"y":280,"a":150},{"x":-60,"y":280,"a":160},{"x":-20,"y":280,"a":165},{"x":20,"y":280,"a":150},{"x":60,"y":280,"a":150},{"x":100,"y":280,"a":150},{"x":140,"y":280,"a":150},{"x":180,"y":280,"a":155},
  {"x":-180,"y":200,"a":60},{"x":-140,"y":200,"a":80},{"x":-100,"y":200,"a":145},{"x":-60,"y":200,"a":160},{"x":-20,"y":200,"a":165},{"x":20,"y":200,"a":155},{"x":60,"y":200,"a":155},{"x":100,"y":200,"a":155},{"x":140,"y":200,"a":155},{"x":180,"y":200,"a":160},
  {"x":-180,"y":120,"a":20},{"x":-140,"y":120,"a":50},{"x":-100,"y":120,"a":130},{"x":-60,"y":120,"a":160},{"x":-20,"y":120,"a":165},{"x":20,"y":120,"a":170},{"x":60,"y":120,"a":150},{"x":100,"y":120,"a":150},{"x":140,"y":120,"a":155},{"x":180,"y":120,"a":165},
  {"x":-180,"y":40,"a":10},{"x":-140,"y":40,"a":40},{"x":-100,"y":40,"a":160},{"x":-60,"y":40,"a":105},{"x":-20,"y":40,"a":150},{"x":20,"y":40,"a":185},{"x":60,"y":40,"a":60},{"x":100,"y":40,"a":70},{"x":140,"y":40,"a":120},{"x":180,"y":40,"a":170},
  {"x":-180,"y":-40,"a":165},{"x":-140,"y":-40,"a":290},{"x":-100,"y":-40,"a":240},{"x":-60,"y":-40,"a":150},{"x":-20,"y":-40,"a":165},{"x":20,"y":-40,"a":155},{"x":60,"y":-40,"a":150},{"x":100,"y":-40,"a":340},{"x":140,"y":-40,"a":220},{"x":180,"y":-40,"a":190},
  {"x":-180,"y":-120,"a":165},{"x":-140,"y":-120,"a":160},{"x":-100,"y":-120,"a":150},{"x":-60,"y":-120,"a":150},{"x":-20,"y":-120,"a":165},{"x":20,"y":-120,"a":160},{"x":60,"y":-120,"a":150},{"x":100,"y":-120,"a":230},{"x":140,"y":-120,"a":310},{"x":180,"y":-120,"a":200},
  {"x":-180,"y":-200,"a":168},{"x":-140,"y":-200,"a":160},{"x":-100,"y":-200,"a":152},{"x":-60,"y":-200,"a":148},{"x":-20,"y":-200,"a":160},{"x":20,"y":-200,"a":165},{"x":60,"y":-200,"a":160},{"x":100,"y":-200,"a":150},{"x":140,"y":-200,"a":260},{"x":180,"y":-200,"a":240},
  {"x":-180,"y":-280,"a":170},{"x":-140,"y":-280,"a":160},{"x":-100,"y":-280,"a":155},{"x":-60,"y":-280,"a":150},{"x":-20,"y":-280,"a":155},{"x":20,"y":-280,"a":165},{"x":60,"y":-280,"a":158},{"x":100,"y":-280,"a":150},{"x":140,"y":-280,"a":144},{"x":180,"y":-280,"a":260},
  {"x":-180,"y":-360,"a":170},{"x":-140,"y":-360,"a":160},{"x":-100,"y":-360,"a":155},{"x":-60,"y":-360,"a":150},{"x":-20,"y":-360,"a":155},{"x":20,"y":-360,"a":165},{"x":60,"y":-360,"a":160},{"x":100,"y":-360,"a":155},{"x":140,"y":-360,"a":144},{"x":180,"y":-360,"a":144}
 ],
 "ck": [
  {"k":0,"v":0.007},{"k":1,"v":1.107},{"k":2,"v":1.311},{"k":3,"v":0.796},{"k":4,"v":0.811},{"k":5,"v":0.837},{"k":6,"v":0.867},{"k":7,"v":0.844},{"k":8,"v":0.915},{"k":9,"v":0.852},{"k":10,"v":0.926},{"k":11,"v":0.919},{"k":12,"v":0.933},{"k":13,"v":0.974},{"k":14,"v":0.956},{"k":15,"v":0.956},{"k":16,"v":0.907},{"k":17,"v":0.952},{"k":18,"v":0.933}
 ],
 "frac": [
  {"k":0,"v":0.042},{"k":1,"v":0.477},{"k":2,"v":0.877},{"k":3,"v":0.817},{"k":4,"v":0.854},{"k":5,"v":0.874},{"k":6,"v":0.886},{"k":7,"v":0.886},{"k":8,"v":0.916},{"k":9,"v":0.899},{"k":10,"v":0.923},{"k":11,"v":0.933},{"k":12,"v":0.933},{"k":13,"v":0.948},{"k":14,"v":0.953},{"k":15,"v":0.963},{"k":16,"v":0.936},{"k":17,"v":0.96},{"k":18,"v":0.951}
 ]
},
"hconcat": [
 {
  "width": 378, "height": 338,
  "title": {"text": "(a) Safe Lyapunov candidate level sets.", "orient": "bottom", "anchor": "middle", "frame": "group", "dx": -59, "offset": 27},
  "encoding": {
   "x": {"field": "x", "type": "quantitative", "scale": {"domain": [-180, 180], "nice": false, "zero": false}, "axis": {"values": [-100, 0, 100], "title": "angle [deg]"}},
   "y": {"field": "y", "type": "quantitative", "scale": {"domain": [-360, 360], "nice": false, "zero": false}, "axis": {"values": [-200, 0, 200], "title": "angular velocity [deg/s]"}}
  },
  "layer": [
   {"data": {"name": "regions"}, "transform": [{"filter": "datum.r === 'S'"}], "mark": {"type": "area", "orient": "horizontal", "clip": true},
    "encoding": {"x2": {"field": "xe"}, "fill": {"datum": "𝒮π", "type": "nominal",
      "scale": {"domain": ["𝒮π", "NN", "LQR", "SOS"], "range": ["#0072B2", "#D55E00", "#009E73", "#F0E442"]},
      "legend": {"orient": "top-right", "offset": 4, "title": null, "symbolType": "M-1.92,-0.67H1.92V0.67H-1.92Z", "symbolSize": 576, "symbolOffset": 12, "symbolStrokeWidth": 0.6, "symbolStrokeColor": "#444444", "labelFont": "Liberation Serif, DejaVu Serif, serif", "labelFontSize": 24, "labelColor": "black", "labelAlign": "left", "labelOffset": 36, "rowPadding": 5, "padding": 9, "strokeColor": "black", "fillColor": "white", "cornerRadius": 0}}}},
   {"data": {"name": "regions"}, "transform": [{"filter": "datum.r === 'N'"}], "mark": {"type": "area", "orient": "horizontal", "clip": true},
    "encoding": {"x2": {"field": "xe"}, "fill": {"datum": "NN", "type": "nominal"}}},
   {"data": {"name": "regions"}, "transform": [{"filter": "datum.r === 'L'"}], "mark": {"type": "area", "orient": "horizontal", "clip": true},
    "encoding": {"x2": {"field": "xe"}, "fill": {"datum": "LQR", "type": "nominal"}}},
   {"data": {"name": "regions"}, "transform": [{"filter": "datum.r === 'Y'"}], "mark": {"type": "area", "orient": "horizontal", "clip": true, "interpolate": "monotone"},
    "encoding": {"x2": {"field": "xe"}, "fill": {"datum": "SOS", "type": "nominal"}}},
   {"data": {"name": "loops"}, "mark": {"type": "line", "interpolate": "cardinal-closed", "clip": true, "color": "#111111", "strokeWidth": 0.8},
    "encoding": {"detail": {"field": "id"}, "order": {"field": "i"}}},
   {"data": {"name": "paths"}, "mark": {"type": "line", "interpolate": "cardinal", "clip": true, "color": "#111111", "strokeWidth": 0.8},
    "encoding": {"detail": {"field": "id"}, "order": {"field": "i"}}},
   {"data": {"name": "arrows"}, "mark": {"type": "point", "shape": "M0,-1L0.6,0.1L0.1,-0.2V0.9H-0.1V-0.2L-0.6,0.1Z", "size": 190, "filled": true, "color": "black", "opacity": 1, "clip": true},
    "encoding": {"angle": {"field": "a", "type": "quantitative", "scale": null}}}
  ]
 },
 {
  "vconcat": [
   {
    "width": 378, "height": 164,
    "view": {"stroke": null},
    "data": {"name": "ck"},
    "layer": [
     {"mark": {"type": "line", "color": "#D55E00", "strokeWidth": 1.2},
      "encoding": {
       "x": {"field": "k", "type": "quantitative", "scale": {"domain": [-0.5, 18.45], "nice": false, "zero": false}, "axis": {"values": [0, 5, 10, 15], "labels": false, "title": null}},
       "y": {"field": "v", "type": "quantitative", "scale": {"domain": [0, 1.5], "nice": false, "range": [164, 29]}, "axis": {"values": [0, 0.5, 1, 1.5], "format": "~g", "title": "safe level cₖ", "titlePadding": 28, "labelPadding": 8}}
      }},
     {"mark": {"type": "circle", "size": 85, "color": "#D55E00", "opacity": 1},
      "encoding": {"x": {"field": "k", "type": "quantitative"}, "y": {"field": "v", "type": "quantitative"}}},
     {"mark": {"type": "rule", "color": "black", "strokeWidth": 1}, "encoding": {"y": {"datum": 1.5}}},
     {"mark": {"type": "rule", "color": "black", "strokeWidth": 1}, "encoding": {"y": {"datum": 0}}},
     {"mark": {"type": "rule", "color": "black", "strokeWidth": 1}, "encoding": {"x": {"datum": 18.45}, "y": {"datum": 0}, "y2": {"datum": 1.5}}},
     {"mark": {"type": "rule", "color": "black", "strokeWidth": 1}, "encoding": {"x": {"datum": -0.5}, "y": {"datum": 0}, "y2": {"datum": 1.5}}}
    ]
   },
   {
    "width": 378, "height": 135,
    "data": {"name": "frac"},
    "encoding": {
     "x": {"field": "k", "type": "quantitative", "scale": {"domain": [-0.5, 18.45], "nice": false, "zero": false}, "axis": {"values": [0, 5, 10, 15], "title": "safe level set update iteration k"}},
     "y": {"field": "v", "type": "quantitative", "scale": {"domain": [0, 1], "nice": false}, "axis": {"values": [0, 0.2, 0.4, 0.6, 0.8, 1], "format": "~g", "title": "fraction of 𝒮π", "titlePadding": 28, "labelPadding": 8, "labelOverlap": false, "labelFontSize": 22, "labelSeparation": -10}}
    },
    "layer": [
     {"mark": {"type": "line", "color": "#D55E00", "strokeWidth": 1.2}},
     {"mark": {"type": "circle", "size": 85, "color": "#D55E00", "opacity": 1}}
    ]
   }
  ],
  "spacing": 41,
  "bounds": "flush",
  "title": {"text": "(b) Training behaviour of neural network candidates.", "orient": "bottom", "anchor": "start", "frame": "group", "dx": -100, "offset": 27}
 }
]
}
